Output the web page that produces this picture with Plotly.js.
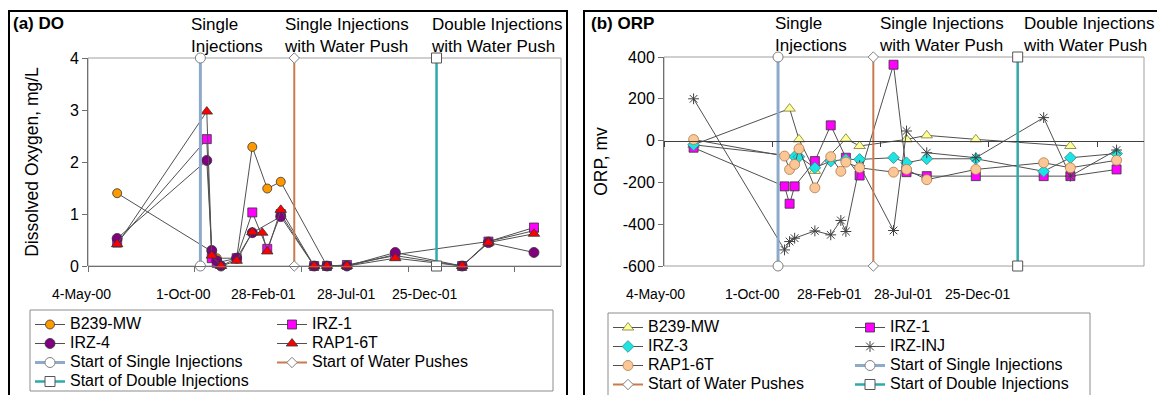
<!DOCTYPE html>
<html>
<head>
<meta charset="utf-8">
<script src="https://cdn.plot.ly/plotly-3.0.1.min.js"></script>
<style>
  html, body { margin: 0; padding: 0; background: #fff; width: 1157px; height: 395px; overflow: hidden; }
  .panel { position: absolute; border: 2px solid #000; background: #fff; overflow: hidden; }
  #pa { left: 8px; top: 10px; width: 556px; height: 400px; }
  #pb { left: 583px; top: 10px; width: 580px; height: 400px; }
  .legend .legendtext { font-size: 16px !important; }
</style>
</head>
<body>
<div id="pa" class="panel"></div>
<div id="pb" class="panel"></div>
<script>
// ---- sampling dates shared by all wells ----
const sampleDates = ['2000-06-14', '2000-10-18', '2000-10-25', '2000-11-01', '2000-11-07',
  '2000-11-29', '2000-12-21', '2001-01-04', '2001-01-11', '2001-01-30', '2001-03-18',
  '2001-04-05', '2001-05-03', '2001-07-10', '2001-10-12', '2001-11-18', '2002-01-21'];

// ---- (a) dissolved oxygen, mg/L ----
const doB239 = [1.40, null, 0.28, 0.15, null, 0.15, 2.29, null, 1.49, 1.62, null, 0.0, 0.0, 0.22, null, 0.47, 0.68];
const doIRZ1 = [0.45, 2.44, 0.15, 0.06, null, 0.15, 1.03, null, 0.33, 1.00, 0.0, 0.0, 0.02, 0.20, 0.0, 0.47, 0.74];
const doIRZ4 = [0.53, 2.03, 0.30, 0.10, 0.0, 0.15, 0.64, null, null, 0.95, 0.0, 0.0, 0.0, 0.26, 0.0, 0.45, 0.26];
const doRAP = [0.42, 2.97, 0.20, null, 0.0, 0.10, 0.65, 0.64, 0.28, 1.08, 0.0, 0.0, 0.0, 0.15, 0.0, 0.45, 0.62];

// ---- (b) oxidation-reduction potential, mV ----
const orpB239 = [-20, null, 153, null, 6, -145, null, null, 9, -26, null, 6, 25, 6, null, -26, null];
const orpIRZ1 = [-34, -219, -302, -219, null, -98, 73, null, -82, -167, 363, -151, -170, -170, -170, -170, -138];
const orpIRZ3 = [-20, null, null, -77, -77, -130, -98, null, -90, -90, -82, -106, -87, -87, -147, -82, -62];
const orpINJ = [200, -523, -483, -467, null, -432, -451, -382, -435, -120, -430, 46, -58, -82, 110, -170, -45];
const orpRAP = [5, -74, -138, -114, -39, -226, -77, -147, -103, -130, -151, -138, -187, -138, -106, -130, -94];

// ---- treatment phases ----
const eventDates = ['2000-10-09', '2001-02-18', '2001-09-06'];
const eventNames = ['Start of Single Injections', 'Start of Water Pushes', 'Start of Double Injections'];
const phaseLabels = ['Single<br>Injections', 'Single Injections<br>with Water Push', 'Double Injections<br>with Water Push'];

// ---- axis labels ----
const dateTickLabels = ['4-May-00', '1-Oct-00', '28-Feb-01', '28-Jul-01', '25-Dec-01'];
const doTickVals = [0, 1, 2, 3, 4];
const orpTickVals = [-600, -400, -200, 0, 200, 400];
const orpTickText = ['-600', '-400', '-200', '0', '200', '400'];

// ---- styling ----
const FONT = '"Liberation Sans", Arial, sans-serif';
const DAY = 86400000;
const X_START = '2000-05-04', X_END = '2002-02-28';
const AXIS_GREY = '#707070';
const eventStyles = [
  { color: '#8EAACB', width: 3, symbol: 'circle', size: 10, edge: '#808080' },
  { color: '#C97B4F', width: 2, symbol: 'diamond', size: 8, edge: '#808080' },
  { color: '#2FA9AA', width: 2.5, symbol: 'square', size: 10, edge: '#555555' }
];

function wellTrace(name, values, st) {
  return {
    type: 'scatter', mode: 'lines+markers', name: name,
    x: sampleDates, y: values, connectgaps: true, cliponaxis: false,
    line: { color: st.line || '#505050', width: 1 },
    marker: { symbol: st.symbol, size: st.size, color: st.fill,
      line: { color: st.edge || '#333333', width: st.edgeWidth || 0.8 } }
  };
}

function eventTrace(i, lo, hi) {
  const st = eventStyles[i];
  return {
    type: 'scatter', mode: 'lines+markers', name: eventNames[i],
    x: [eventDates[i], eventDates[i]], y: [lo, hi], cliponaxis: false,
    line: { color: st.color, width: st.width },
    marker: { symbol: st.symbol, size: st.size, color: '#ffffff', line: { color: st.edge, width: 1 } }
  };
}

function drawPanel(id, o) {
  const W = o.width, H = 400, m = o.margin;
  const pw = W - m.l - m.r, ph = H - m.t - m.b;
  const bottom = H - m.b;
  const annotations = [];
  dateTickLabels.forEach((t, i) => annotations.push({
    xref: 'paper', yref: 'paper', x: o.labelOffsets[i] / pw, y: 0,
    xanchor: 'center', yanchor: 'top', yshift: -18, text: t, showarrow: false,
    font: { size: 14 }
  }));
  phaseLabels.forEach((t, i) => annotations.push({
    xref: 'x', yref: 'paper', x: eventDates[i], y: 1, xanchor: 'left', yanchor: 'bottom',
    xshift: o.phaseShift[i], text: t, align: 'left', showarrow: false, font: { size: 17 }
  }));

  const lb = o.legendBox; // left, top, right, bottom in panel pixels
  const shapes = [
    { type: 'rect', xref: 'paper', yref: 'paper', x0: 0, x1: 1, y0: 0, y1: 1,
      line: { color: '#a0a0a0', width: 1 }, layer: 'below' },
    { type: 'rect', xref: 'paper', yref: 'paper',
      x0: (lb[0] - m.l) / pw, x1: (lb[2] - m.l) / pw,
      y0: -(lb[1] - bottom) / ph, y1: -(lb[3] - bottom) / ph,
      line: { color: '#8c8c8c', width: 1 }, layer: 'above' }
  ];

  const xCommon = {
    type: 'date', range: [X_START, X_END], tickmode: 'linear', tick0: X_START, dtick: 150 * DAY,
    ticklen: 5, tickcolor: o.xLineColor, showticklabels: false, showgrid: false, zeroline: false,
    showline: true, linecolor: o.xLineColor, linewidth: 1, automargin: false,
    anchor: 'free', position: o.xAxisPos
  };

  const layout = {
    width: W, height: H,
    margin: { l: m.l, r: m.r, t: m.t, b: m.b, autoexpand: false },
    paper_bgcolor: '#ffffff', plot_bgcolor: '#ffffff',
    font: { family: FONT, color: '#000000', size: 16 },
    title: { text: o.title, font: { size: 17 }, xref: 'container', yref: 'container',
      x: o.titleX / W, y: 1 - 11 / H, xanchor: 'left', yanchor: 'middle' },
    showlegend: true,
    legend: {
      orientation: 'h', xref: 'paper', yref: 'paper',
      x: (lb[0] - m.l) / pw, y: -(lb[1] + o.legendPad - bottom) / ph,
      xanchor: 'left', yanchor: 'top', entrywidth: 197, entrywidthmode: 'pixels',
      itemwidth: 30, font: { size: o.legendBase, family: FONT }, bgcolor: 'rgba(0,0,0,0)',
      borderwidth: 0, traceorder: 'normal'
    },
    xaxis: Object.assign({}, xCommon, { ticks: 'outside' }),
    xaxis2: Object.assign({}, xCommon, { ticks: 'inside', overlaying: 'x' }),
    yaxis: {
      range: o.yRange, tickmode: 'array', tickvals: o.yTickVals, ticktext: o.yTickText,
      ticks: 'outside', ticklen: 5, tickcolor: AXIS_GREY, tickfont: { size: 16 },
      showline: true, linecolor: AXIS_GREY, linewidth: 1, showgrid: false,
      zeroline: false, automargin: false,
      title: { text: o.yTitle, font: { size: 17.5 }, standoff: o.titleStandoff }
    },
    shapes: shapes,
    annotations: annotations
  };
  Plotly.newPlot(id, o.traces, layout, { staticPlot: true, displayModeBar: false });
}

// (a) DO
drawPanel('pa', {
  width: 556,
  margin: { l: 78, r: 5, t: 46, b: 146 },
  title: '<b>(a) DO</b>', titleX: 3,
  yTitle: 'Dissolved Oxygen, mg/L', titleStandoff: 26,
  yRange: [0, 4], yTickVals: doTickVals, yTickText: doTickVals.map(String),
  xAxisPos: 0, xLineColor: AXIS_GREY,
  labelOffsets: [-7, 95, 175, 258, 337],
  phaseShift: [-11, -12, -8],
  legendBox: [20, 298, 543, 379], legendPad: 0, legendBase: 12,
  traces: [
    wellTrace('B239-MW', doB239, { symbol: 'circle', size: 9, fill: '#FF9900' }),
    wellTrace('IRZ-1', doIRZ1, { symbol: 'square', size: 9, fill: '#FF00FF' }),
    wellTrace('IRZ-4', doIRZ4, { symbol: 'circle', size: 10, fill: '#800080' }),
    wellTrace('RAP1-6T', doRAP, { symbol: 'triangle-up', size: 10, fill: '#FF0000' }),
    eventTrace(0, 0, 4), eventTrace(1, 0, 4), eventTrace(2, 0, 4)
  ]
});

// (b) ORP
drawPanel('pb', {
  width: 580,
  margin: { l: 79, r: 21, t: 45, b: 146 },
  title: '<b>(b) ORP</b>', titleX: 6,
  yTitle: 'ORP, mv', titleStandoff: 10,
  yRange: [-600, 400], yTickVals: orpTickVals, yTickText: orpTickText,
  xAxisPos: 0.6, xLineColor: '#404040',
  labelOffsets: [-8.5, 88, 165, 239, 314],
  phaseShift: [-5, 4, 3],
  legendBox: [23, 301, 505, 420], legendPad: 0, legendBase: 12,
  traces: [
    wellTrace('B239-MW', orpB239, { symbol: 'triangle-up', size: 10, fill: '#FFFF99', edge: '#7a7a3a' }),
    wellTrace('IRZ-1', orpIRZ1, { symbol: 'square', size: 9, fill: '#FF00FF' }),
    wellTrace('IRZ-3', orpIRZ3, { symbol: 'diamond', size: 9, fill: '#1EE3E3', edge: '#2a8a8a' }),
    wellTrace('IRZ-INJ', orpINJ, { symbol: 'asterisk-open', size: 9, fill: '#404040', edge: '#404040', edgeWidth: 1 }),
    wellTrace('RAP1-6T', orpRAP, { symbol: 'circle', size: 10, fill: '#FBC796', edge: '#b07a4a' }),
    eventTrace(0, -600, 400), eventTrace(1, -600, 400), eventTrace(2, -600, 400)
  ]
});
</script>
</body>
</html>
